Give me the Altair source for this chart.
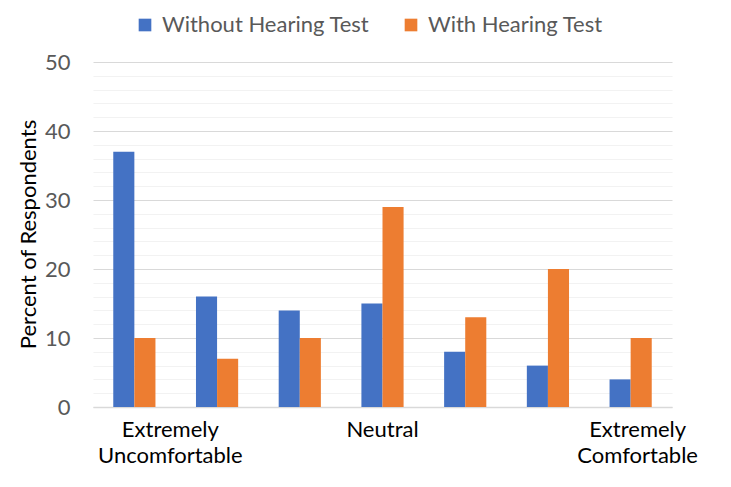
import altair as alt
import pandas as pd

categories = ["1", "2", "3", "4", "5", "6", "7"]
series = ["Without Hearing Test", "With Hearing Test"]
without_test = [37, 16, 14, 15, 8, 6, 4]
with_test = [10, 7, 10, 29, 13, 20, 10]
tick_labels = {
    "1": ["Extremely", "Uncomfortable"],
    "4": ["Neutral"],
    "7": ["Extremely", "Comfortable"],
}
colors = ["#4472C4", "#ED7D31"]
y_ticks = list(range(0, 51, 2))

rows = []
for c, a, b in zip(categories, without_test, with_test):
    rows.append({"cat": c, "series": series[0], "value": a})
    rows.append({"cat": c, "series": series[1], "value": b})
df = pd.DataFrame(rows)

def arr(lst):
    return "[" + ",".join("'" + s + "'" for s in lst) + "]"

label_expr = ""
for k, v in tick_labels.items():
    label_expr += f"datum.value === '{k}' ? {arr(v)} : "
label_expr += "''"

FONT = "Lato"
FS = 22

chart = alt.Chart(df).mark_bar().encode(
    x=alt.X(
        "cat:N",
        sort=categories,
        scale=alt.Scale(paddingInner=0.49, paddingOuter=0.245),
        axis=alt.Axis(
            title=None,
            labelAngle=0,
            labelExpr=label_expr,
            labelFont=FONT,
            labelFontSize=FS,
            labelColor="#000000",
            labelLineHeight=26,
            labelPadding=12,
            labelLimit=0,
            labelOffset={
                "condition": [
                    {"test": "datum.value === '1'", "value": 36},
                    {"test": "datum.value === '7'", "value": 7},
                ],
                "value": 0,
            },
            ticks=False,
            domainColor="#D9D9D9",
            domainWidth=1.3,
            grid=False,
        ),
    ),
    xOffset=alt.XOffset("series:N", sort=series),
    y=alt.Y(
        "value:Q",
        scale=alt.Scale(domain=[0, 50], nice=False),
        axis=alt.Axis(
            title="Percent of Respondents",
            titleFont=FONT,
            titleFontSize=FS,
            titleFontWeight="normal",
            titleColor="#000000",
            titleX=-65,
            titleY=172,
            titleAngle=-90,
            titleAlign="center",
            titleBaseline="middle",
            values=y_ticks,
            labelExpr="datum.value % 10 === 0 ? datum.label : ''",
            labelFont=FONT,
            labelFontSize=FS,
            labelColor="#595959",
            labelPadding=23,
            ticks=False,
            domain=False,
            gridColor={
                "condition": {"test": "datum.value % 10 === 0", "value": "#D9D9D9"},
                "value": "#F2F2F2",
            },
            gridWidth=1.2,
        ),
    ),
    color=alt.Color(
        "series:N",
        sort=series,
        scale=alt.Scale(domain=series, range=colors),
        legend=alt.Legend(
            title=None,
            orient="none",
            direction="horizontal",
            legendX=41,
            legendY=-48,
            symbolType="square",
            symbolSize=160,
            symbolStrokeWidth=0,
            symbolOpacity=1,
            labelFont=FONT,
            labelFontSize=FS,
            labelColor="#595959",
            labelOffset=6,
            labelLimit=0,
            columnPadding=30,
        ),
    ),
).properties(
    width=579,
    height=345,
    autosize=alt.AutoSizeParams(type="none"),
    padding={"left": 85, "top": 54, "right": 51, "bottom": 72},
).configure_view(stroke=None)

chart.save("out.html", embed_options={"renderer": "svg", "actions": False})
